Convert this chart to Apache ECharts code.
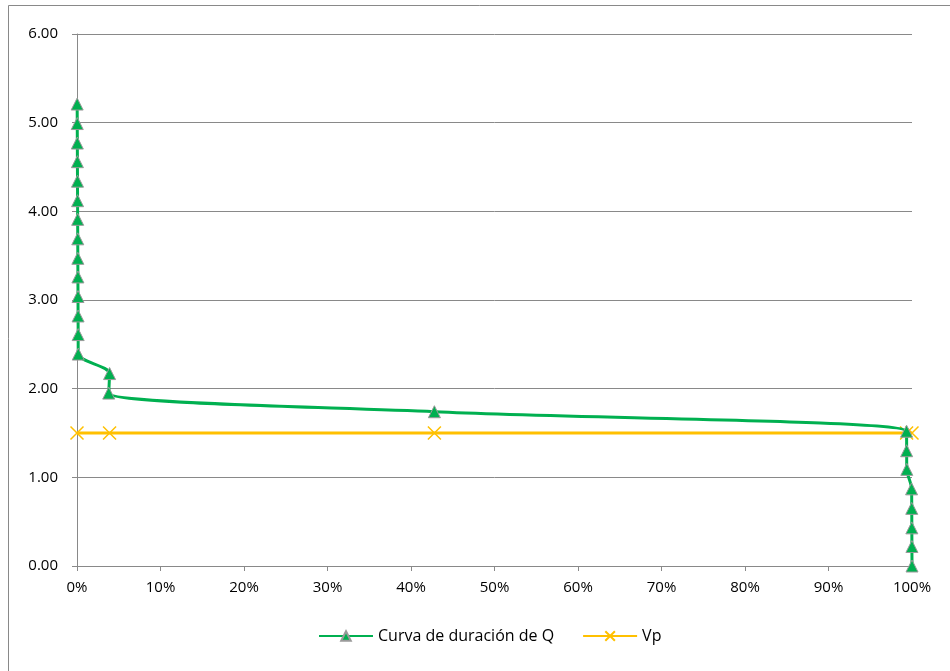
<!DOCTYPE html>
<html>
<head>
<meta charset="utf-8">
<script src="https://cdn.jsdelivr.net/npm/echarts@6/dist/echarts.min.js"></script>
<style>
  html, body { margin: 0; padding: 0; background: #fff; }
  #chart { width: 950px; height: 671px; }
</style>
</head>
<body>
<div id="chart"></div>
<script>
// Flow duration curve: exceedance probability vs. discharge
const durationPct = [0.0002, 0.0003, 0.0004, 0.0005, 0.0006, 0.0007, 0.0008, 0.0009, 0.0010, 0.0011, 0.0012, 0.0013, 0.0014, 0.0015,
                     0.039, 0.038, 0.428, 0.9935, 0.9936, 0.9938, 0.9995, 0.9997, 0.9998, 0.9999, 1.0];
const durationQ   = [5.21, 4.99, 4.77, 4.56, 4.34, 4.12, 3.91, 3.69, 3.47, 3.26, 3.04, 2.82, 2.61, 2.39,
                     2.17, 1.95, 1.74, 1.52, 1.30, 1.09, 0.87, 0.65, 0.43, 0.22, 0.00];

// Reference discharge Vp
const vpPct = [0.0, 0.039, 0.428, 0.9935, 1.0];
const vpQ   = [1.5, 1.5, 1.5, 1.5, 1.5];

const xTicks = { min: 0, max: 1, interval: 0.1 };
const yTicks = { min: 0, max: 6, interval: 1 };

const seriesNames = ['Curva de duración de Q', 'Vp'];

const GREEN = '#00B050';
const YELLOW = '#FFC000';
const AXIS_GRAY = '#898989';
const FONT = 'Open Sans';

const pairs = (xs, ys) => xs.map((x, i) => [x, ys[i]]);

const chart = echarts.init(document.getElementById('chart'), null, { renderer: 'canvas' });

chart.setOption({
  animation: false,
  backgroundColor: '#fff',
  textStyle: { fontFamily: FONT },
  graphic: [{
    type: 'rect',
    shape: { x: 8.5, y: 5.5, width: 980, height: 700 },
    style: { fill: 'none', stroke: AXIS_GRAY, lineWidth: 1 },
    silent: true,
    z: -10
  }],
  grid: { left: 77, right: 38, top: 34, bottom: 105, containLabel: false },
  xAxis: {
    type: 'value',
    min: xTicks.min, max: xTicks.max, interval: xTicks.interval,
    axisLine: { show: true, onZero: false, lineStyle: { color: AXIS_GRAY, width: 1 } },
    axisTick: { show: true, inside: false, length: 5, lineStyle: { color: AXIS_GRAY } },
    splitLine: { show: false },
    axisLabel: {
      margin: 14,
      color: '#000', fontSize: 15, fontFamily: FONT,
      formatter: v => Math.round(v * 100) + '%'
    }
  },
  yAxis: {
    type: 'value',
    min: yTicks.min, max: yTicks.max, interval: yTicks.interval,
    axisLine: { show: true, lineStyle: { color: AXIS_GRAY, width: 1 } },
    axisTick: { show: true, inside: false, length: 5, lineStyle: { color: AXIS_GRAY } },
    splitLine: { show: true, lineStyle: { color: AXIS_GRAY, width: 1 } },
    axisLabel: {
      margin: 19,
      color: '#000', fontSize: 15, fontFamily: FONT,
      formatter: v => v.toFixed(2)
    }
  },
  legend: {
    bottom: 22,
    left: 313,
    itemWidth: 54,
    itemHeight: 12,
    itemGap: 28,
    textStyle: { color: '#000', fontSize: 16, fontFamily: FONT },
    data: seriesNames
  },
  series: [
    {
      name: seriesNames[0],
      type: 'line',
      data: pairs(durationPct, durationQ),
      smooth: 0.3,
      symbol: 'triangle',
      symbolSize: 12,
      lineStyle: { color: GREEN, width: 3 },
      itemStyle: { color: GREEN, borderColor: '#9a9a9a', borderWidth: 1 },
      z: 3
    },
    {
      name: seriesNames[1],
      type: 'line',
      data: pairs(vpPct, vpQ),
      symbol: 'path://M0,0L10,10M10,0L0,10',
      symbolSize: 13,
      lineStyle: { color: YELLOW, width: 3 },
      itemStyle: { color: YELLOW, borderColor: YELLOW, borderWidth: 1.5 },
      z: 2
    }
  ]
});
</script>
</body>
</html>
